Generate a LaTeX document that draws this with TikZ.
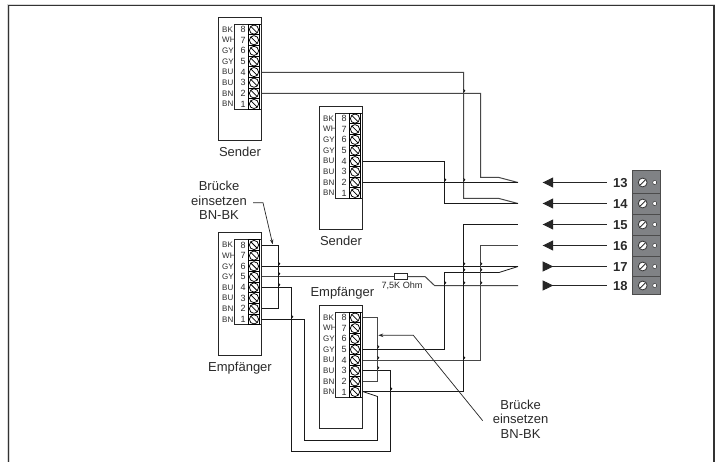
\documentclass[tikz,border=0pt]{standalone}
\usepackage{fontspec}
\setmainfont{Liberation Sans}
\usetikzlibrary{arrows.meta}
\definecolor{txtgrey}{HTML}{2A2A2A}
\definecolor{stripgrey}{HTML}{808285}
\tikzstyle{wire} = [line width=0.8pt, draw=black!90]
\tikzstyle{greywire} = [line width=1pt, draw=black!72]
\tikzstyle{arrow} = [line width=0.7pt, draw=black!85, -{Stealth[length=5pt,width=3.5pt]}]
\tikzstyle{feedarrow} = [line width=0.8pt, draw=black!85, {Triangle[length=10.5pt,width=10pt]}-]
\tikzstyle{returnarrow} = [line width=0.8pt, draw=black!85, {Triangle[length=10.5pt,width=10pt,reversed]}-]
\tikzstyle{blockbox} = [line width=0.9pt, draw=black!85, fill=white]
\tikzstyle{pinlabel} = [inner sep=0pt, text=txtgrey, font=\fontsize{8}{8}\selectfont]
\tikzstyle{pinnumber} = [inner sep=0pt, text=txtgrey, font=\fontsize{9}{9}\selectfont]
\tikzstyle{caption} = [inner sep=0pt, text=txtgrey, align=center, font=\fontsize{13}{14.7}\selectfont]
\tikzstyle{number} = [inner sep=0pt, text=txtgrey, font=\fontsize{13}{13}\selectfont\bfseries]
\newcommand{\termblock}[3]{% name, left, top of the pin strip
  \draw [blockbox] (#2, #3-7) rectangle (#2+43.4, #3+115.7);
  \draw [blockbox] (#2+15.7, #3) rectangle (#2+43.4, #3+85);
  \foreach \pin/\lead [count=\row from 0] in {8/BK,7/WH,6/GY,5/GY,4/BU,3/BU,2/BN,1/BN} {
    \draw [line width=1pt] (#2+30, #3+\row*10.62) rectangle (#2+41.5, #3+\row*10.62+10.62);
    \draw [line width=0.75pt] (#2+35.7, #3+\row*10.62+5.31) circle (4.6);
    \draw [line width=0.75pt] (#2+32.5, #3+\row*10.62+2.1) -- (#2+38.9, #3+\row*10.62+8.5);
    \node at (#2+3.7, #3+\row*10.62+5.31) [pinlabel, anchor=west] {\lead};
    \node at (#2+24.7, #3+\row*10.62+5.31) [pinnumber] {\pin};
    \pgfmathsetmacro{\wirey}{floor(#3+\row*10.62+5.31)+0.5}
    \coordinate (#1\pin) at (#2+43.4, \wirey);
  }
}

\begin{document}
\begin{tikzpicture}[x=1pt, y=1pt, yscale=-1]

\useasboundingbox (0, 0) rectangle (717, 462);
\fill [white] (0, 0) rectangle (717, 462);
\draw [line width=2.4pt, draw=black!15] (8.3, 462) -- (8.3, 5.3) -- (714, 5.3) -- (714, 462);
\draw [line width=1.1pt, draw=black!80] (8.3, 462) -- (8.3, 5.5) -- (714, 5.5) -- (714, 462);

\termblock{senderA}{218.3}{24.3}
\termblock{senderB}{319.3}{113.3}
\termblock{recvA}{218.3}{239.7}
\termblock{recvB}{319.3}{312.3}

\node at (240, 152) (senderAcap) [caption] {Sender};
\node at (341, 240.7) (senderBcap) [caption] {Sender};
\node at (240, 368.5) (recvAcap) [caption] {Empfänger};
\node at (342.3, 293) (recvBcap) [caption] {Empfänger};
\node at (219, 200.5) (bridgeA) [caption] {Brücke\\einsetzen\\BN-BK};
\node at (520.6, 419) (bridgeB) [caption] {Brücke\\einsetzen\\BN-BK};

% terminal strip
\draw [line width=1pt, draw=black!70, fill=stripgrey] (632.7, 170.7) rectangle (660, 294.3);
\foreach \tnum/\ty/\sep in {13/182.5/193.3, 14/203.5/214, 15/224.5/235, 16/245.5/256, 17/266.5/276, 18/285.5/294.3} {
  \draw [line width=0.8pt, draw=black!70] (632.7, \sep) -- (660, \sep);
  \draw [line width=0.8pt, draw=black!80, fill=white] (642.7, \ty) circle (4.4);
  \draw [line width=0.9pt, draw=black!80] (640, \ty+2.6) -- (645.4, \ty-2.6);
  \draw [line width=0.3pt, fill=white] (654.7, \ty) circle (2);
  \node at (620.3, \ty+1) (num\tnum) [number] {\tnum};
  \coordinate (tail\tnum) at (607.3, \ty);
  \coordinate (tip\tnum) at (542.7, \ty);
}
\draw [feedarrow] (tip13) -- (tail13);
\draw [feedarrow] (tip14) -- (tail14);
\draw [feedarrow] (tip15) -- (tail15);
\draw [feedarrow] (tip16) -- (tail16);
\draw [returnarrow] (tip17) -- (tail17);
\draw [returnarrow] (tip18) -- (tail18);

\coordinate (end13) at (518, 182.5);
\coordinate (end14) at (518, 203.5);
\coordinate (end15) at (518, 224.5);
\coordinate (end16) at (518, 245.5);
\coordinate (end17) at (518, 266.5);
\coordinate (end18) at (518, 285.5);

\coordinate (bendA) at (463.5, 198.5);
\coordinate (slantA) at (499, 198.5);
\coordinate (bendB) at (480.5, 177.5);
\coordinate (slantB) at (499, 177.5);
\coordinate (bendC) at (444.5, 203.5);
\coordinate (col15) at (463.5, 224.5);
\coordinate (col16) at (480.5, 245.5);
\coordinate (bendE) at (444.5, 272.5);
\coordinate (slantE) at (499, 272.5);
\coordinate (slantF) at (425, 276.5);
\coordinate (slantG) at (434.5, 285.5);

% sender wires
\draw [greywire] (senderA4) -| (bendA) -- (slantA) -- (end14);
\draw [greywire] (senderA2) -| (bendB) -- (slantB) -- (end13);
\draw [wire] (senderB4) -| (bendC) -- (end14);
\draw [wire] (senderB2) -- (end13);

% receiver wires
\draw [wire] (recvA6) -- (end17);
\node at (400.7, 276.5) (resistor) [draw=black!85, fill=white, line width=0.7pt, minimum width=12.5pt, minimum height=5.4pt, inner sep=0pt] {};
\draw [greywire] (recvA5) -- (resistor);
\draw [greywire] (resistor) -- (slantF) -- (slantG) -- (end18);
\node at (402, 285.7) (ohm) [pinlabel, font=\fontsize{9.1}{9.1}\selectfont] {7,5K Ohm};

\coordinate (tiebackA) at (278.5, 276);
\draw [wire] (recvA8) -| (tiebackA) |- (recvA2);
\coordinate (loopAa) at (291.5, 451.5);
\coordinate (loopAb) at (390.5, 451.5);
\draw [wire] (recvA4) -| (loopAa) -- (loopAb) |- (recvB3);
\coordinate (loopBa) at (304.5, 440.5);
\coordinate (loopBb) at (377.5, 440.5);
\coordinate (loopBc) at (377.5, 396.5);
\draw [wire] (recvA1) -| (loopBa) -- (loopBb) -- (loopBc) -- (recvB1);

\coordinate (tiebackB) at (377.5, 350);
\draw [greywire] (recvB8) -| (tiebackB) |- (recvB2);
\draw [wire] (recvB5) -| (bendE) -- (slantE) -- (end17);
\draw [greywire] (recvB4) -| (col16) -- (end16);
\draw [wire] (recvB1) -| (col15) -- (end15);

% hops over crossing wires
\foreach \jx/\jy in {463.5/93.5, 444.5/182.5, 463.5/182.5, 278.5/266.5, 463.5/266.5, 480.5/266.5,
    463.5/272.5, 480.5/272.5, 278.5/276.5, 444.5/285.5, 463.5/285.5, 480.5/285.5, 278.5/287.5,
    291.5/319.5, 377.5/349.5, 377.5/360.5, 463.5/360.5, 377.5/370.5, 390.5/391.5}
  \draw [line width=0.6pt] (\jx, \jy-1.4) arc [start angle=90, end angle=-90, radius=1.4];

% bridge pointers
\coordinate (pointA) at (253, 202.7);
\coordinate (kneeA) at (263, 202.7);
\coordinate (hitA) at (272.7, 244.3);
\draw [arrow] (pointA) -- (kneeA) -- (hitA);
\coordinate (pointB) at (482.7, 420.7);
\coordinate (kneeB) at (413.3, 335.3);
\coordinate (hitB) at (378.3, 335.3);
\draw [arrow] (pointB) -- (kneeB) -- (hitB);

\end{tikzpicture}
\end{document}
